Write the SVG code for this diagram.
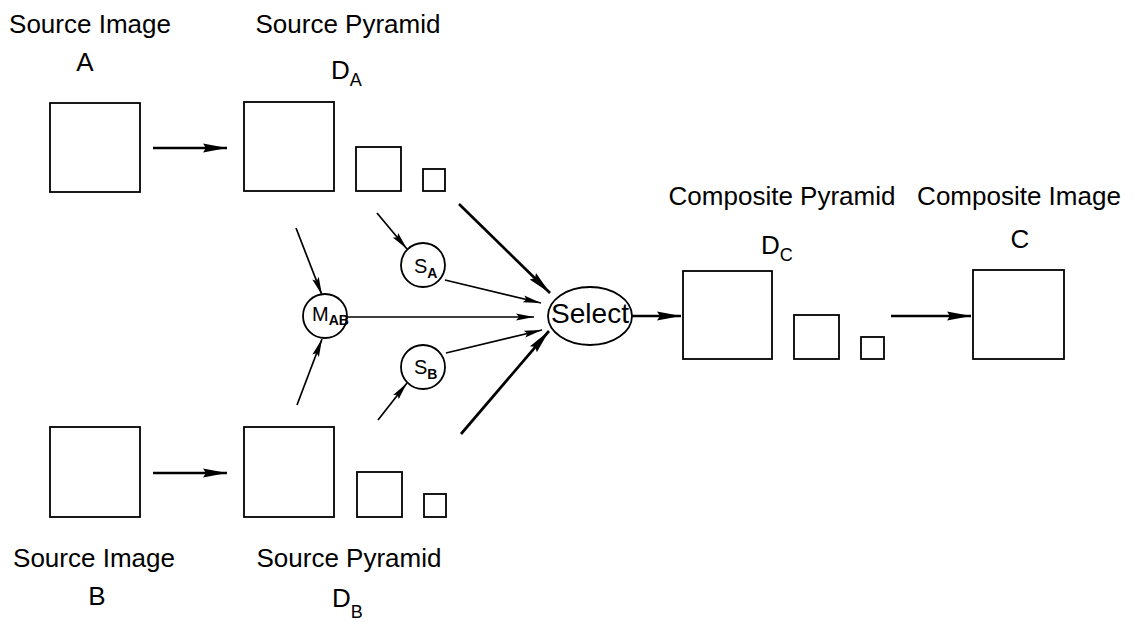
<svg xmlns="http://www.w3.org/2000/svg" width="1135" height="622" viewBox="0 0 1135 622">
<style>
text{font-family:"Liberation Sans",Arial,Helvetica,sans-serif;fill:#000}
.lbl{font-size:26px}
.sub{font-size:18px}
.box{fill:#fff;stroke:#000;stroke-width:1.8}
.node{fill:#fff;stroke:#000;stroke-width:1.8}
.thin{stroke:#000;stroke-width:1.7;fill:none;marker-end:url(#ah)}
.thick{stroke:#000;stroke-width:2.7;fill:none;marker-end:url(#ahb)}
.ntxt{font-size:20px}
.nsub{font-size:14px;font-weight:bold}
</style>
<defs>
<marker id="ah" markerUnits="userSpaceOnUse" markerWidth="20" markerHeight="10" refX="18" refY="4" orient="auto" viewBox="0 0 20 8">
<path d="M0,0.5 L18,4 L0,7.5 L3,4 z" fill="#000"/>
</marker>
<marker id="ahb" markerUnits="userSpaceOnUse" markerWidth="26" markerHeight="12" refX="24" refY="5" orient="auto" viewBox="0 0 26 10">
<path d="M0,0.5 L24,5 L0,9.5 L3,5 z" fill="#000"/>
</marker>
</defs>
<rect width="1135" height="622" fill="#fff"/>

<g id="labels">
<text class="lbl" x="90" y="33" text-anchor="middle">Source Image</text>
<text class="lbl" x="85" y="71" text-anchor="middle">A</text>
<text class="lbl" x="348" y="33" text-anchor="middle">Source Pyramid</text>
<text class="lbl" x="331" y="79">D<tspan class="sub" dy="7">A</tspan></text>
<text class="lbl" x="94" y="567" text-anchor="middle">Source Image</text>
<text class="lbl" x="97" y="605" text-anchor="middle">B</text>
<text class="lbl" x="349" y="567" text-anchor="middle">Source Pyramid</text>
<text class="lbl" x="332" y="607">D<tspan class="sub" dy="11">B</tspan></text>
<text class="lbl" x="782" y="205" text-anchor="middle">Composite Pyramid</text>
<text class="lbl" x="1019" y="205" text-anchor="middle">Composite Image</text>
<text class="lbl" x="761" y="254">D<tspan class="sub" dy="7">C</tspan></text>
<text class="lbl" x="1020" y="248" text-anchor="middle">C</text>
</g>

<g id="imageA"><rect class="box" x="50" y="103" width="90" height="89"/></g>
<g id="pyramidA">
<rect class="box" x="244" y="102" width="90" height="89"/>
<rect class="box" x="356" y="147" width="45" height="44"/>
<rect class="box" x="423" y="169" width="22" height="22"/>
</g>
<g id="imageB"><rect class="box" x="50" y="427" width="90" height="90"/></g>
<g id="pyramidB">
<rect class="box" x="244" y="427" width="90" height="90"/>
<rect class="box" x="357" y="472" width="45" height="45"/>
<rect class="box" x="424" y="494" width="22" height="23"/>
</g>
<g id="pyramidC">
<rect class="box" x="683" y="271" width="89" height="88"/>
<rect class="box" x="794" y="315" width="45" height="44"/>
<rect class="box" x="861" y="337" width="23" height="22"/>
</g>
<g id="imageC"><rect class="box" x="973" y="270" width="91" height="89"/></g>

<g id="MAB">
<circle class="node" cx="325" cy="316" r="22"/>
<text class="ntxt" x="312" y="321" font-size="18px">M<tspan class="nsub" dy="4">AB</tspan></text>
</g>
<g id="SA">
<circle class="node" cx="423" cy="265" r="22"/>
<text class="ntxt" x="414" y="273">S<tspan class="nsub" dy="5">A</tspan></text>
</g>
<g id="SB">
<circle class="node" cx="423" cy="367" r="22"/>
<text class="ntxt" x="414" y="374">S<tspan class="nsub" dy="5">B</tspan></text>
</g>
<g id="select">
<ellipse class="node" cx="590" cy="316" rx="42" ry="29"/>
<text x="590" y="323" font-size="28px" text-anchor="middle" textLength="78" lengthAdjust="spacingAndGlyphs">Select</text>
</g>

<g id="connectors">
<line class="thick" x1="153" y1="148" x2="227" y2="148"/>
<line class="thick" x1="153" y1="473" x2="227" y2="473"/>
<line class="thin" x1="296" y1="228" x2="322" y2="295"/>
<line class="thin" x1="297" y1="405" x2="322" y2="339"/>
<line class="thin" x1="348" y1="317" x2="534" y2="317"/>
<line class="thin" x1="377" y1="213" x2="407" y2="249"/>
<line class="thin" x1="378" y1="420" x2="407" y2="383"/>
<line class="thin" x1="445" y1="280" x2="541" y2="303"/>
<line class="thin" x1="446" y1="353" x2="542" y2="330"/>
<line class="thick" x1="459" y1="204" x2="550" y2="293"/>
<line class="thick" x1="461" y1="434" x2="549" y2="331"/>
<line class="thick" x1="632" y1="316" x2="681" y2="316"/>
<line class="thick" x1="891" y1="316" x2="971" y2="316"/>
</g>
</svg>
